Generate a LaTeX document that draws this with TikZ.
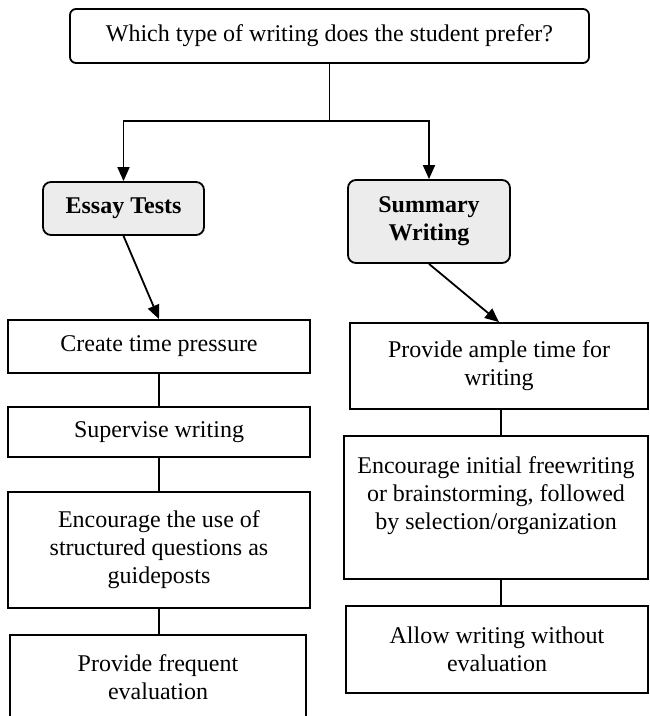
\documentclass[tikz,border=0pt]{standalone}
\usepackage{fontspec}
\setmainfont{Liberation Serif}
\usetikzlibrary{arrows.meta}

\begin{document}
\begin{tikzpicture}[
    x=1pt, y=1pt,
    box/.style={draw, line width=1.8pt, align=center, inner sep=0pt,
        font=\fontsize{24}{28}\selectfont},
    choice/.style={box, rounded corners=8pt, fill=gray!15, font=\fontsize{24}{28}\selectfont\bfseries},
    arr/.style={-{Triangle[length=14pt, width=12pt]}, line width=1.8pt},
    lnk/.style={line width=1.8pt},
]
\useasboundingbox (0,0) rectangle (649,716);

\node[box, rounded corners=6pt, minimum width=519, minimum height=54] (question) at (329.5, 680)
    {Which type of writing does the student prefer?};

\node[choice, minimum width=161, minimum height=53] (essay)   at (123.5, 507.5) {Essay Tests};
\node[choice, minimum width=162, minimum height=83] (summary) at (429, 494.5)   {Summary\\Writing};

% left column
\node[box, minimum width=302, minimum height=53]  (pressure)  at (159, 369.5) {Create time pressure};
\node[box, minimum width=302, minimum height=50]  (supervise) at (159, 284)   {Supervise writing};
\node[box, minimum width=302, minimum height=116] (guide)     at (159, 166)   {Encourage the use of\\structured questions as\\guideposts};
\node[box, minimum width=296, minimum height=84]  (frequent)  at (158, 39)    {Provide frequent\\evaluation};

% right column
\node[box, minimum width=298, minimum height=86]  (ample)     at (499, 350)   {Provide ample time for\\writing};
\node[box, minimum width=304, minimum height=143] (freewrite) at (496, 208.5) {Encourage initial freewriting\\or brainstorming, followed\\by selection/organization\\\mbox{}};
\node[box, minimum width=302, minimum height=87]  (allow)     at (497, 66.5)  {Allow writing without\\evaluation};

% question -> both choices
\coordinate (fork) at (329.5, 595);
\draw[lnk] (question.south) -- (fork);
\draw[arr] (fork) -| (essay.north);
\draw[arr] (fork) -| (summary.north);

% choices -> first steps
\draw[arr] (essay.south)   -- (pressure.north);
\draw[arr] (summary.south) -- (ample.north);

% steps
\draw[lnk] (pressure.south)  -- (supervise.north);
\draw[lnk] (supervise.south) -- (guide.north);
\draw[lnk] (guide.south)     -- (frequent.north -| guide.south);
\draw[lnk] ([xshift=2pt]ample.south) -- ([xshift=2pt]ample.south |- freewrite.north);
\draw[lnk] ([xshift=5pt]freewrite.south) -- ([xshift=5pt]freewrite.south |- allow.north);

\end{tikzpicture}
\end{document}
